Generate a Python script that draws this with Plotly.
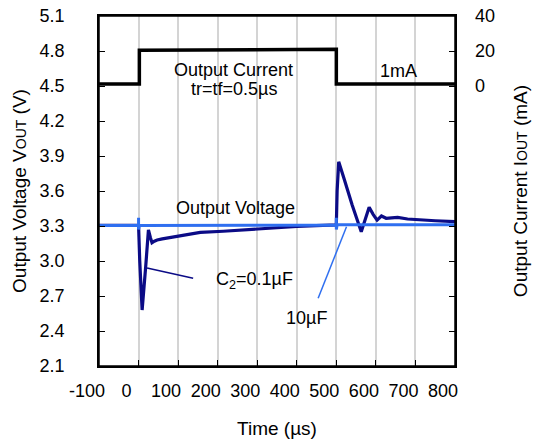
import plotly.graph_objects as go

# Output current (mA)
t_cur = [-100, 2, 2, 420, 430, 500, 500, 800]
i_cur = [1.2, 1.2, 20.4, 20.6, 21.0, 21.0, 1.2, 1.2]

# Output voltage, C2 = 0.1uF (V)
t_v01 = [-100, 0, 3, 9, 18, 25, 30, 34, 40, 47, 60, 88, 120, 156, 214, 280, 340,
         400, 466, 500, 502, 506, 520, 540, 563, 573, 583, 593, 603, 614, 626,
         640, 655, 680, 710, 750, 800]
v_v01 = [3.305, 3.305, 3.0, 2.58, 2.95, 3.266, 3.2, 3.157, 3.17, 3.18, 3.19,
         3.208, 3.228, 3.245, 3.255, 3.272, 3.286, 3.296, 3.306, 3.31, 3.6,
         3.85, 3.7, 3.48, 3.251, 3.35, 3.46, 3.4, 3.351, 3.386, 3.366, 3.37,
         3.374, 3.36, 3.351, 3.345, 3.337]

# Output voltage, 10uF (V)
t_v10 = [-100, 0, 0, 0, 2, 500, 500, 500, 502, 800]
v_v10 = [3.305, 3.305, 3.37, 3.27, 3.305, 3.308, 3.37, 3.27, 3.31, 3.31]

x_ticks = [-100, 0, 100, 200, 300, 400, 500, 600, 700, 800]
x_ticktext = ["-100", "0", "100", "200", "300", "400", "500", "600", "700", "800"]
y_ticks = [2.1, 2.4, 2.7, 3.0, 3.3, 3.6, 3.9, 4.2, 4.5, 4.8, 5.1]
y_ticktext = ["2.1", "2.4", "2.7", "3.0", "3.3", "3.6", "3.9", "4.2", "4.5", "4.8", "5.1"]
y2_ticks = [0, 20, 40]

FONT = "Liberation Sans, Arial, sans-serif"
NAVY = "#0b0b86"
LBLUE = "#2f6ff0"

fig = go.Figure()
fig.add_trace(go.Scatter(x=t_cur, y=i_cur, yaxis="y2", mode="lines",
                         line=dict(color="black", width=3.5), showlegend=False))
fig.add_trace(go.Scatter(x=t_v01, y=v_v01, mode="lines",
                         line=dict(color=NAVY, width=3.2), showlegend=False))
fig.add_trace(go.Scatter(x=t_v10, y=v_v10, mode="lines",
                         line=dict(color=LBLUE, width=3), showlegend=False))

# frame
fig.add_shape(type="rect", xref="paper", yref="paper", x0=0, y0=0, x1=1, y1=1,
              line=dict(color="black", width=1.5), layer="above")

# leader lines
fig.add_shape(type="line", x0=21.5, y0=2.94, x1=138, y1=2.853, xref="x", yref="y",
              line=dict(color=NAVY, width=1.5))
fig.add_shape(type="line", x0=525.7, y0=3.294, x1=454, y1=2.68, xref="x", yref="y",
              line=dict(color=LBLUE, width=1.5))

ann_font = dict(family=FONT, size=18, color="black")
for txt, x, y in [("Output Current", 239, 4.64),
                  ("tr=tf=0.5µs", 241.6, 4.472),
                  ("1mA", 657.5, 4.629),
                  ("Output Voltage", 244, 3.454),
                  ("C<sub>2</sub>=0.1µF", 292, 2.837),
                  ("10µF", 424, 2.511)]:
    fig.add_annotation(x=x, y=y, xref="x", yref="y", text=txt, showarrow=False,
                       font=ann_font, xanchor="center", yanchor="middle")

fig.update_layout(
    width=544, height=447,
    margin=dict(l=98.5, r=88.5, t=15.7, b=81),
    paper_bgcolor="white", plot_bgcolor="white",
    font=dict(family=FONT, size=18, color="black"),
    xaxis=dict(range=[-100, 800], tickvals=x_ticks, ticktext=x_ticktext,
               showgrid=True, automargin=False, ticklabeloverflow="allow",
               gridcolor="#d4d4d4", gridwidth=1.5, zeroline=False,
               showline=True, linecolor="black", linewidth=1.5, mirror=True,
               ticks="inside", ticklen=6, tickcolor="black",
               ticklabelstandoff=8, ticklabelshift=-12,
               tickfont=dict(size=18),
               title=dict(text="Time (µs)", font=dict(size=19), standoff=21)),
    yaxis=dict(range=[2.1, 5.1], tickvals=y_ticks, ticktext=y_ticktext,
               showgrid=False, zeroline=False, automargin=False,
               ticklabeloverflow="allow",
               showline=True, linecolor="black", linewidth=1.5, mirror="ticks",
               ticks="inside", ticklen=6, tickcolor="black",
               ticklabelstandoff=29, tickfont=dict(size=18),
               title=dict(text='Output Voltage V<span style="font-size:14px">OUT</span> (V)',
                          font=dict(size=19), standoff=8)),
    yaxis2=dict(range=[-160, 40], tickvals=y2_ticks, overlaying="y", side="right",
                showgrid=False, zeroline=False, showline=False, ticks="",
                automargin=False, ticklabeloverflow="allow",
                ticklabelstandoff=19, tickfont=dict(size=18),
                title=dict(text='Output Current I<span style="font-size:14px">OUT</span> (mA)',
                           font=dict(size=19), standoff=19)),
)

fig.write_html("out.html", config={"displayModeBar": False},
               post_script="document.body.style.margin='0';document.body.style.overflow='hidden';")
